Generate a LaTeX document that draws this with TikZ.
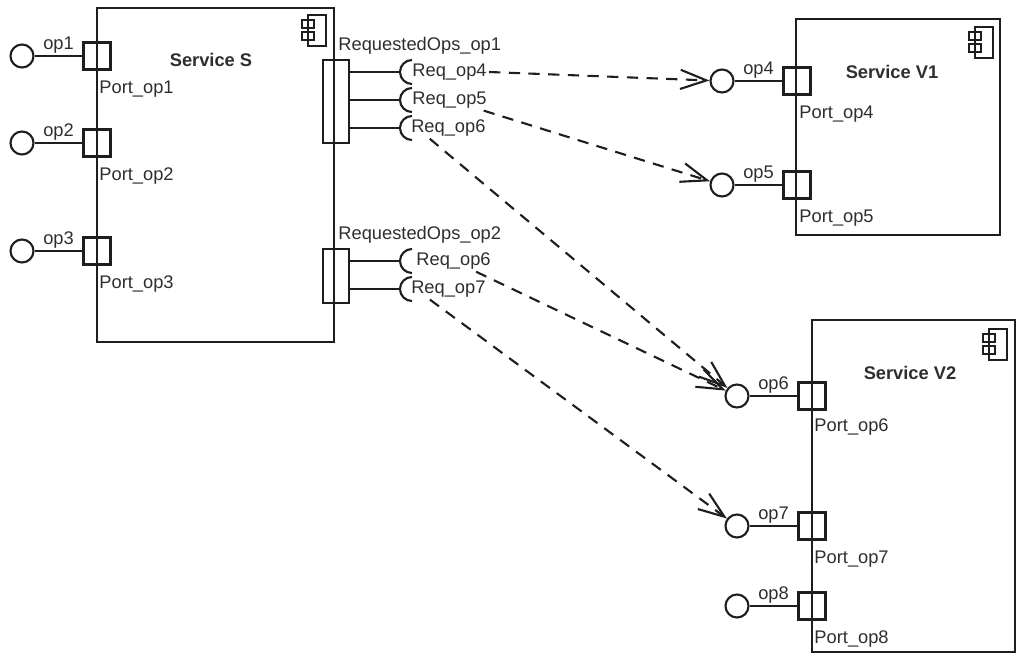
\documentclass[tikz,border=0pt]{standalone}
\usepackage{fontspec}
\setmainfont{Liberation Sans}
\usetikzlibrary{calc}
\usetikzlibrary{positioning, arrows.meta}

\definecolor{umlline}{HTML}{1E1E1E}
\definecolor{umltext}{HTML}{2E2E2E}

\tikzset{
  compicon/.pic={
    \draw[line width=1.1pt] (-18,0) rectangle (0,31);
    \draw[line width=1.1pt] (-24,5) rectangle (-12,13);
    \draw[line width=1.1pt] (-24,17) rectangle (-12,25);
  }
}

\begin{document}
\begin{tikzpicture}[x=0.025cm, y=-0.025cm, line width=1.5pt, color=umlline, text=umltext,
    font=\fontsize{13}{15}\selectfont,
    comp/.style={draw, rectangle, inner sep=0pt},
    compname/.style={font=\fontsize{13}{15}\selectfont\bfseries},
    port/.style={draw, rectangle, minimum size=0.675cm, inner sep=0pt},
    portlbl/.style={anchor=north west, inner sep=1pt, yshift=-0.2cm},
    reqlbl/.style={anchor=south west, inner sep=1pt, yshift=0.05cm},
    iface/.style={draw, circle, minimum size=0.575cm, inner sep=0pt},
    opname/.style={above, inner sep=1pt},
    reqname/.style={inner sep=1pt},
    dep/.style={dash pattern=on 8pt off 6pt, -{Straight Barb[length=0.65cm, width=0.48cm]}}]
        \useasboundingbox (0,0) rectangle (1024,657);

        % components
        \node[comp, minimum width=5.925cm, minimum height=8.35cm] (servS) at (215.5,175) {};
        \node[comp, minimum width=5.1cm, minimum height=5.4cm] (servV1) at (898,127) {};
        \node[comp, minimum width=5.075cm, minimum height=8.3cm] (servV2) at (913.5,486) {};
        \node[compname] (nameS) at (211,60) {Service S};
        \node[compname] (nameV1) at (892,72) {Service V1};
        \node[compname] (nameV2) at (910,373) {Service V2};
        \pic at ($(servS.north east)+(-9,8)$) {compicon};
        \pic at ($(servV1.north east)+(-8,9)$) {compicon};
        \pic at ($(servV2.north east)+(-9,10)$) {compicon};

        % provided ports of S
        \node[port, label={[portlbl]south:Port\_op1}] (P1) at (97,56) {};
        \node[port, label={[portlbl]south:Port\_op2}] (P2) at (97,143) {};
        \node[port, label={[portlbl]south:Port\_op3}] (P3) at (97,251) {};
        \node[iface] (I1) at (22,56) {};
        \node[iface] (I2) at (22,143) {};
        \node[iface] (I3) at (22,251) {};
        \draw (I1) -- node[opname] (n1) {op1} (P1);
        \draw (I2) -- node[opname] (n2) {op2} (P2);
        \draw (I3) -- node[opname] (n3) {op3} (P3);

        % provided ports of V1 and V2
        \node[port, label={[portlbl]south:Port\_op4}] (P4) at (797,81) {};
        \node[port, label={[portlbl]south:Port\_op5}] (P5) at (797,185) {};
        \node[port, label={[portlbl, yshift=0.06cm]south:Port\_op6}] (P6) at (812,396) {};
        \node[port, label={[portlbl]south:Port\_op7}] (P7) at (812,526) {};
        \node[port, label={[portlbl]south:Port\_op8}] (P8) at (812,606) {};
        \node[iface] (I4) at (722,81) {};
        \node[iface] (I5) at (722,185) {};
        \node[iface] (I6) at (737,396) {};
        \node[iface] (I7) at (737,526) {};
        \node[iface] (I8) at (737,606) {};
        \draw (I4) -- node[opname] (n4) {op4} (P4);
        \draw (I5) -- node[opname] (n5) {op5} (P5);
        \draw (I6) -- node[opname] (n6) {op6} (P6);
        \draw (I7) -- node[opname] (n7) {op7} (P7);
        \draw (I8) -- node[opname] (n8) {op8} (P8);

        % required ports of S
        \node[port, minimum width=0.65cm, minimum height=2.075cm, label={[reqlbl]north:RequestedOps\_op1}] (R1) at (336,101.5) {};
        \node[port, minimum width=0.65cm, minimum height=1.35cm, label={[reqlbl]north:RequestedOps\_op2}] (R2) at (336,276) {};
        \coordinate (S4) at (400,72);
        \coordinate (S5) at (400,100);
        \coordinate (S6) at (400,128);
        \coordinate (T6) at (400,261);
        \coordinate (T7) at (400,289);
        \draw (S4 -| R1.east) -- (S4);
        \draw (S5 -| R1.east) -- (S5);
        \draw (S6 -| R1.east) -- (S6);
        \draw (T6 -| R2.east) -- (T6);
        \draw (T7 -| R2.east) -- (T7);
        \draw ([shift={(12,-12)}]S4) arc[start angle=90, end angle=270, radius=0.3cm];
        \draw ([shift={(12,-12)}]S5) arc[start angle=90, end angle=270, radius=0.3cm];
        \draw ([shift={(12,-12)}]S6) arc[start angle=90, end angle=270, radius=0.3cm];
        \draw ([shift={(12,-12)}]T6) arc[start angle=90, end angle=270, radius=0.3cm];
        \draw ([shift={(12,-12)}]T7) arc[start angle=90, end angle=270, radius=0.3cm];
        \node[reqname, right=0.25cm of S4] (L4) {Req\_op4};
        \node[reqname, right=0.25cm of S5] (L5) {Req\_op5};
        \node[reqname, right=0.22cm of S6] (L6) {Req\_op6};
        \node[reqname, right=0.35cm of T6] (M6) {Req\_op6};
        \node[reqname, right=0.22cm of T7] (M7) {Req\_op7};

        % dependencies
        \draw[dep] (L4.east) -- (I4);
        \draw[dep] (L5) -- (I5);
        \draw[dep] (L6.210) -- (I6);
        \draw[dep] (M6) -- (I6);
        \draw[dep] (M7.210) -- (I7);
    \end{tikzpicture}
\end{document}
